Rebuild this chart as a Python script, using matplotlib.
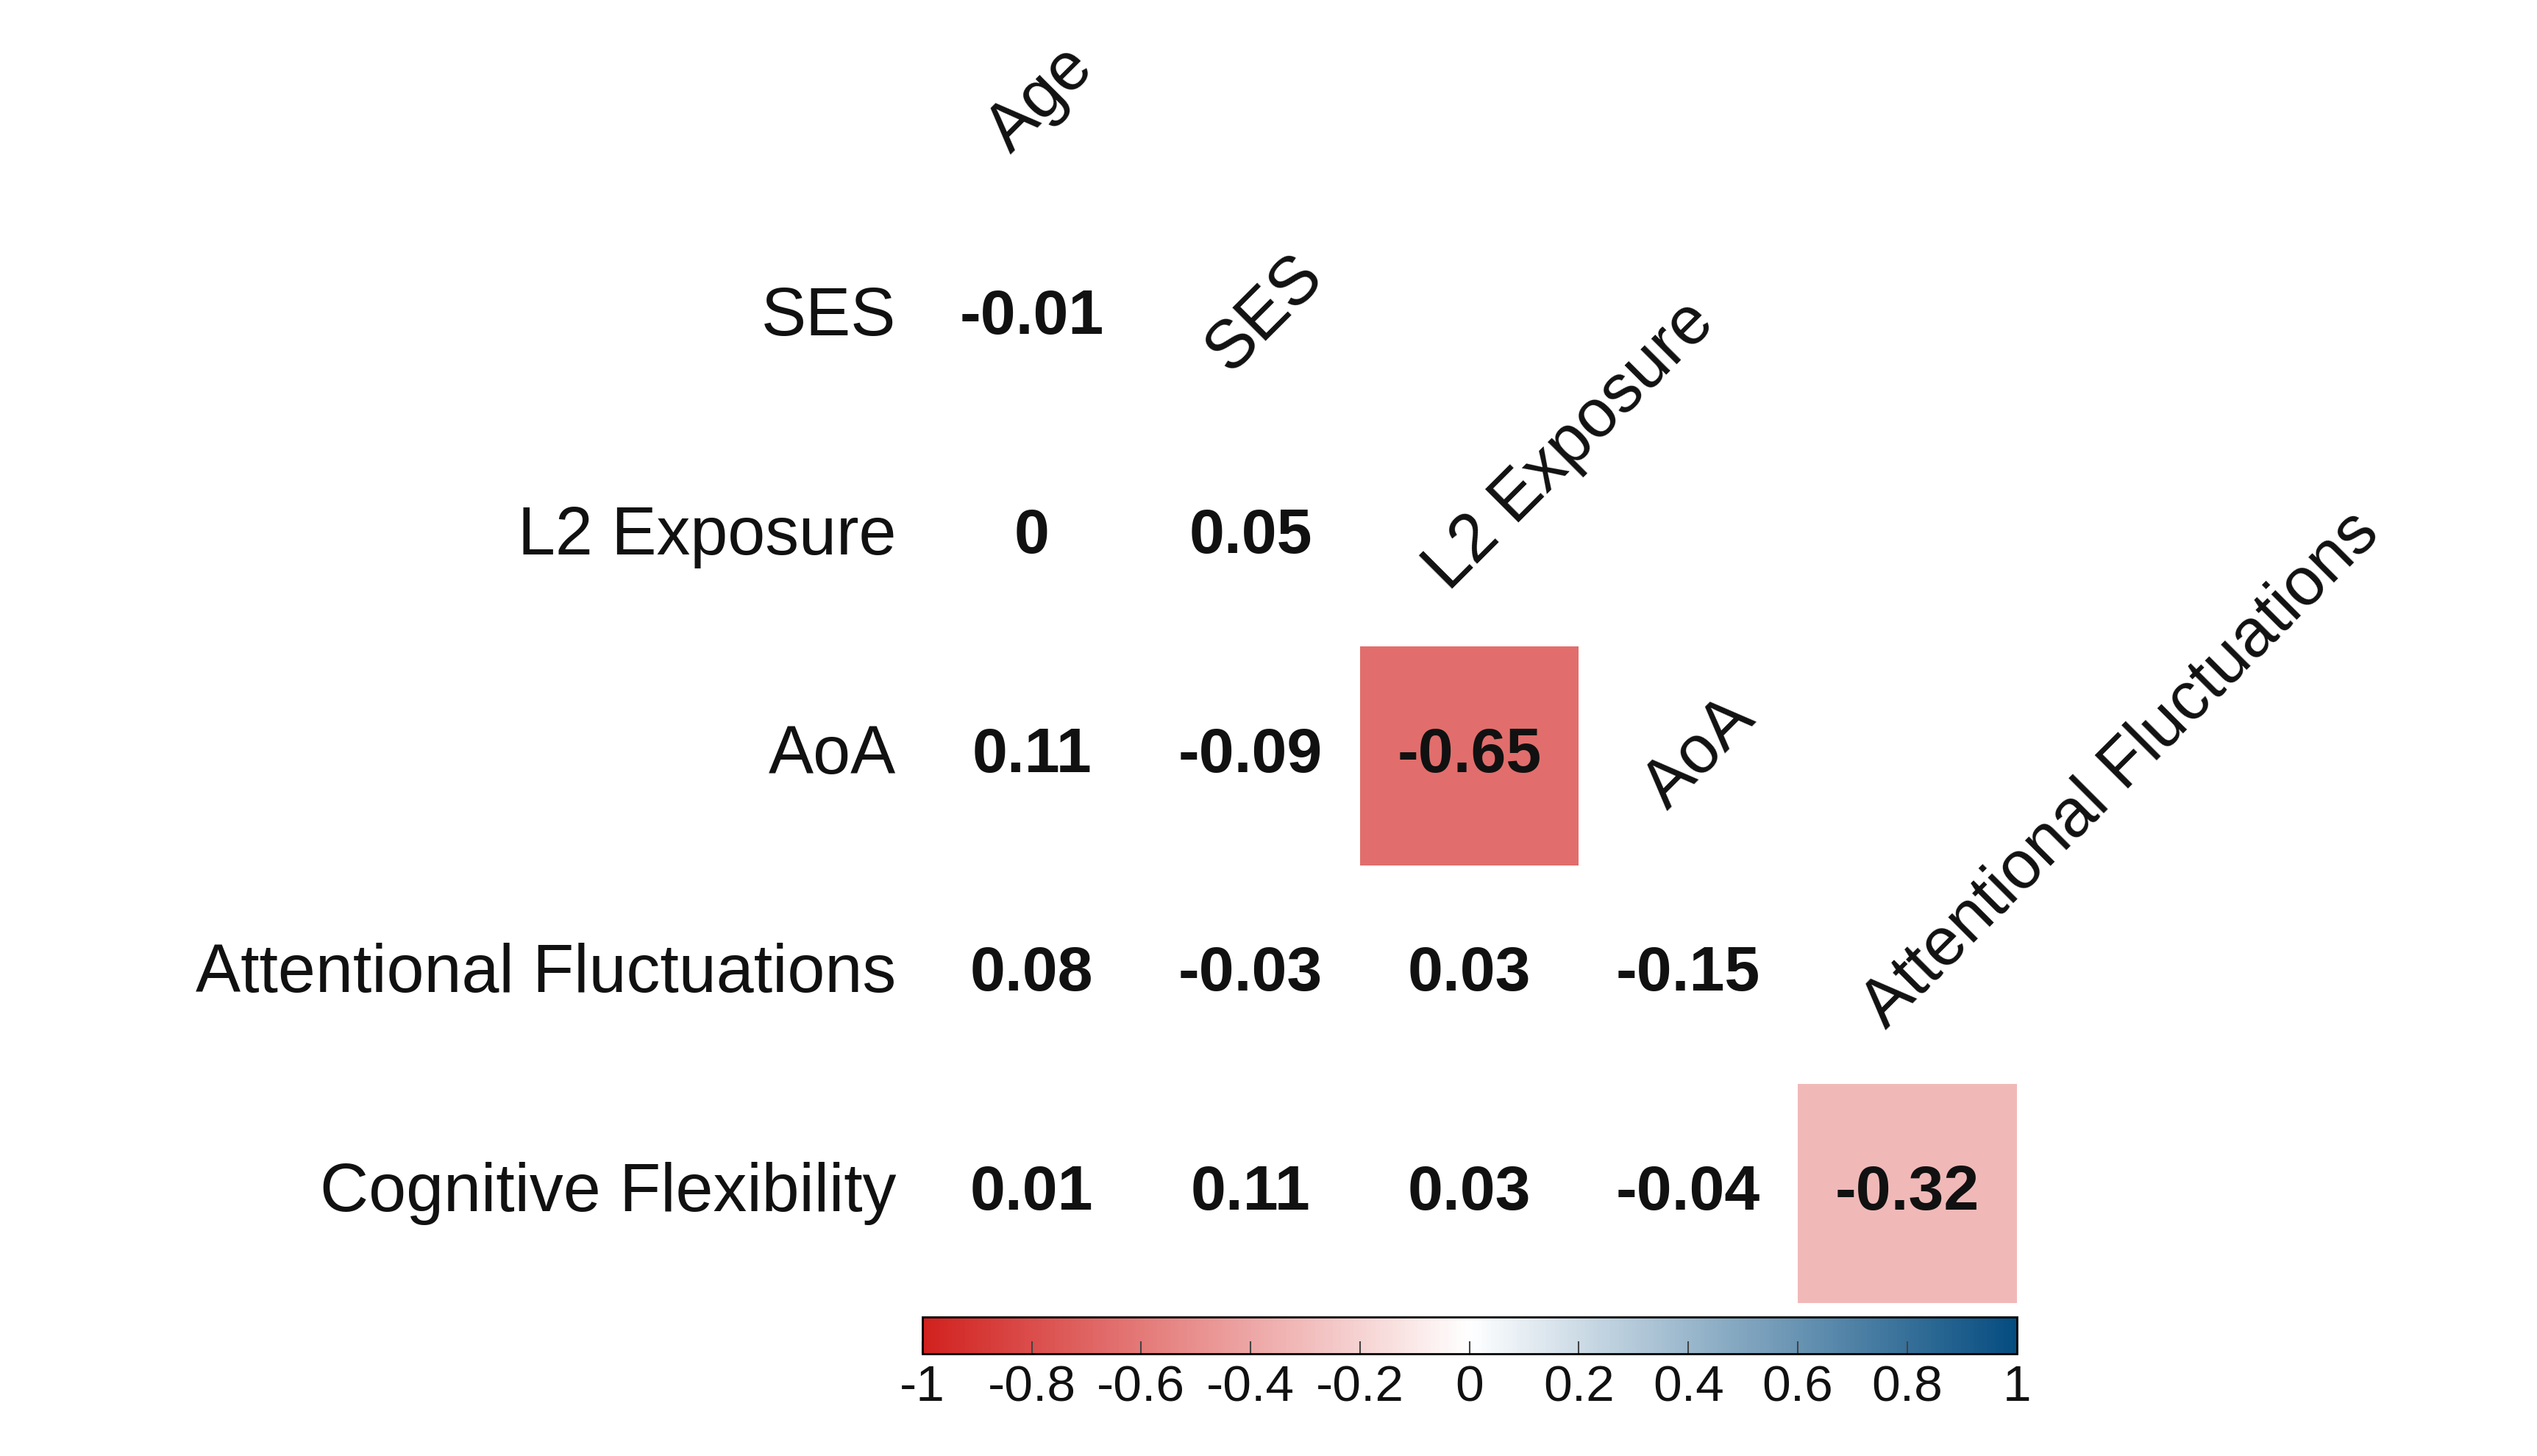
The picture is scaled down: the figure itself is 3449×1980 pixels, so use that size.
import numpy as np
import matplotlib.pyplot as plt
from matplotlib.colors import LinearSegmentedColormap, Normalize
from matplotlib.colorbar import ColorbarBase

plt.rcParams['font.family'] = ['Liberation Sans', 'DejaVu Sans']

# rows and columns of the lower-triangle correlation matrix
row_labels = ["SES", "L2 Exposure", "AoA", "Attentional Fluctuations", "Cognitive Flexibility"]
col_labels = ["Age", "SES", "L2 Exposure", "AoA", "Attentional Fluctuations"]
corr = [
    [-0.01],
    [0, 0.05],
    [0.11, -0.09, -0.65],
    [0.08, -0.03, 0.03, -0.15],
    [0.01, 0.11, 0.03, -0.04, -0.32],
]
# only significant correlations are coloured
signif = [
    [False],
    [False, False],
    [False, False, True],
    [False, False, False, False],
    [False, False, False, False, True],
]

cmap = LinearSegmentedColormap.from_list("rw", [(0.82, 0.13, 0.12), (1, 1, 1), (0.02, 0.30, 0.50)])
norm = Normalize(-1, 1)

fig = plt.figure(figsize=(34.49, 19.8), dpi=100)
ax = fig.add_axes([0.3635, 0.105, 0.4314, 0.752])
n = len(row_labels)
grid = np.full((n, n), np.nan)
for i, row in enumerate(corr):
    for j, v in enumerate(row):
        if signif[i][j]:
            grid[i, j] = v
ax.pcolormesh(np.arange(n + 1) - 0.5, np.arange(n + 1) - 0.5, np.ma.masked_invalid(grid),
              cmap=cmap, norm=norm)
for i, row in enumerate(corr):
    for j, v in enumerate(row):
        ax.text(j, i, f"{v:g}", ha="center", va="center", fontsize=62, fontweight="bold", color="#111111")
ax.set_xlim(-0.5, n - 0.5)
ax.set_ylim(n - 0.5, -0.5)
ax.axis("off")

for i, lab in enumerate(row_labels):
    ax.text(-0.62, i, lab, ha="right", va="center", fontsize=66, color="#111111")
for j, lab in enumerate(col_labels):
    ax.text(j - 0.05, j - 1 + 0.3, lab, ha="left", va="bottom", rotation=45,
            rotation_mode="anchor", fontsize=66, color="#111111")

cax = fig.add_axes([0.3635, 0.070, 0.4314, 0.0257])
cb = ColorbarBase(cax, cmap=cmap, norm=norm, orientation="horizontal")
ticks = np.round(np.arange(-1, 1.01, 0.2), 1)
cb.set_ticks(ticks)
cb.set_ticklabels([f"{t:g}" if abs(t) > 1e-9 else "0" for t in ticks])
cax.tick_params(labelsize=50, direction="in", length=12, width=1.5, colors="#444444",
                labelcolor="#111111", pad=10)
cb.outline.set_linewidth(2)

fig.savefig("out.png", dpi=100, facecolor="white")
